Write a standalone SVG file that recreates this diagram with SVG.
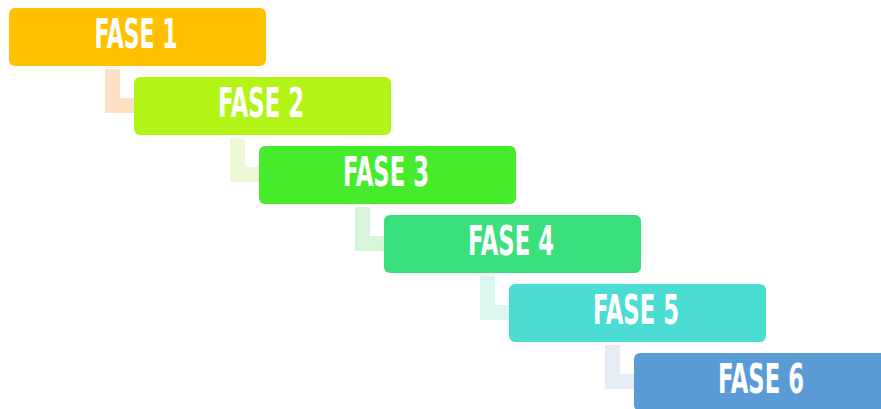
<svg xmlns="http://www.w3.org/2000/svg" width="881" height="409" viewBox="0 0 881 409">
<style>
.box{stroke:none}
.lbl{font-family:"Liberation Sans Narrow","DejaVu Sans Condensed","Liberation Sans",sans-serif;font-weight:bold;font-size:40px;fill:#ffffff;text-anchor:middle}
</style>
<rect width="881" height="409" fill="#ffffff"/>
<g id="connectors">
<path d="M105,69 H120 V98 H134 V113 H105 Z" fill="#FDE1C2"/>
<path d="M230,138 H245 V167 H259 V182 H230 Z" fill="#EDF8D6"/>
<path d="M355,207 H370 V236 H384 V251 H355 Z" fill="#D7F6D9"/>
<path d="M480,276 H495 V305 H509 V320 H480 Z" fill="#DCF6EF"/>
<path d="M605,345 H620 V374 H634 V389 H605 Z" fill="#E6ECF6"/>
</g>
<g id="fase1"><rect class="box" x="9" y="8" width="257" height="58" rx="6" fill="#FFC000"/><text class="lbl" x="136" y="48" textLength="83" lengthAdjust="spacingAndGlyphs">FASE 1</text></g>
<g id="fase2"><rect class="box" x="134" y="77" width="257" height="58" rx="6" fill="#B2F416"/><text class="lbl" x="261" y="117" textLength="86" lengthAdjust="spacingAndGlyphs">FASE 2</text></g>
<g id="fase3"><rect class="box" x="259" y="146" width="257" height="58" rx="6" fill="#46EC2C"/><text class="lbl" x="386" y="186" textLength="86" lengthAdjust="spacingAndGlyphs">FASE 3</text></g>
<g id="fase4"><rect class="box" x="384" y="215" width="257" height="58" rx="6" fill="#3AE07C"/><text class="lbl" x="511" y="255" textLength="86" lengthAdjust="spacingAndGlyphs">FASE 4</text></g>
<g id="fase5"><rect class="box" x="509" y="284" width="257" height="58" rx="6" fill="#4BDCD3"/><text class="lbl" x="636" y="324" textLength="86" lengthAdjust="spacingAndGlyphs">FASE 5</text></g>
<g id="fase6"><rect class="box" x="634" y="353" width="257" height="58" rx="6" fill="#5B9BD5"/><text class="lbl" x="761" y="393" textLength="86" lengthAdjust="spacingAndGlyphs">FASE 6</text></g>
</svg>
